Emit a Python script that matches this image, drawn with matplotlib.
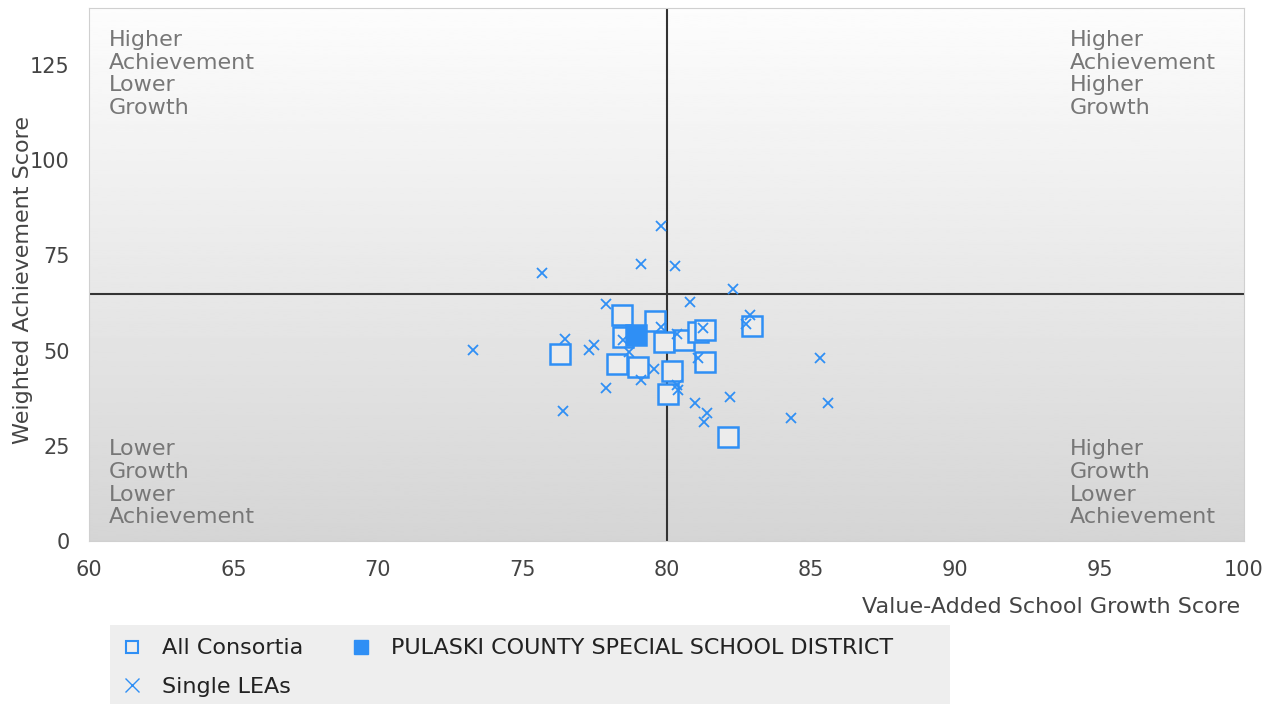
import matplotlib
matplotlib.use("Agg")
import matplotlib.pyplot as plt
import numpy as np
from matplotlib.lines import Line2D
from matplotlib.patches import Rectangle

# Single LEAs (growth score, achievement score)
lea_growth = [79.8, 79.1, 75.7, 80.3, 82.3, 77.9, 80.8, 82.9, 82.75, 79.8,
              81.25, 80.35, 76.5, 77.5, 77.3, 73.3, 85.3, 81.1, 78.7, 78.5,
              79.55, 79.1, 77.9, 80.4, 76.4, 81.0, 82.2, 81.4, 81.3, 84.3,
              85.6, 80.35]
lea_achieve = [82.8, 72.7, 70.5, 72.2, 66.2, 62.2, 62.7, 59.3, 57.0, 56.1,
               56.0, 54.3, 53.0, 51.5, 50.2, 50.3, 48.1, 48.1, 49.7, 52.8,
               45.2, 42.3, 40.2, 39.7, 34.1, 36.2, 37.9, 33.5, 31.2, 32.3,
               36.3, 41.0]

# All Consortia
cons_growth = [78.45, 79.6, 78.5, 79.9, 80.6, 81.1, 81.35, 82.95, 76.3,
               78.27, 79.02, 81.32, 80.2, 80.06, 82.14]
cons_achieve = [59.3, 57.9, 53.7, 52.4, 52.8, 55.0, 55.4, 56.5, 49.2,
                46.4, 45.8, 46.9, 44.7, 38.5, 27.2]

# Selected district
district_growth = [78.95]
district_achieve = [54.2]

growth_cut = 80
achieve_cut = 65

BLUE = "#2f8ff5"
TXT = "#444444"
QTXT = "#777777"

fig = plt.figure(figsize=(12.72, 7.04), dpi=100)
ax = fig.add_axes([89 / 1272, 1 - 541 / 704, (1244 - 89) / 1272, (541 - 8) / 704])

ax.set_xlim(60, 100)
ax.set_ylim(0, 140)

# gradient background
grad = np.linspace(0.835, 0.99, 256).reshape(-1, 1)
ax.imshow(grad, extent=(60, 100, 0, 140), origin="lower", aspect="auto",
          cmap="gray", vmin=0, vmax=1, zorder=0)

ax.axvline(growth_cut, color="#333333", lw=1.5, zorder=1)
ax.axhline(achieve_cut, color="#333333", lw=1.5, zorder=1)

ax.plot(cons_growth, cons_achieve, ls="none", marker="s", ms=15,
        mfc="#ececec", mec=BLUE, mew=1.8, zorder=2)
ax.plot(lea_growth, lea_achieve, ls="none", marker="x", ms=7,
        mec=BLUE, mew=1.3, zorder=3)
ax.plot(district_growth, district_achieve, ls="none", marker="s", ms=15,
        mfc=BLUE, mec=BLUE, mew=1.8, zorder=4)

qkw = dict(color=QTXT, fontsize=16, linespacing=1.18, zorder=5)
ax.text(60.69, 134.3, "Higher\nAchievement\nLower\nGrowth", ha="left", va="top", **qkw)
ax.text(93.98, 134.3, "Higher\nAchievement\nHigher\nGrowth", ha="left", va="top", **qkw)
ax.text(60.69, 4.6, "Lower\nGrowth\nLower\nAchievement", ha="left", va="baseline", **qkw)
ax.text(93.98, 4.6, "Higher\nGrowth\nLower\nAchievement", ha="left", va="baseline", **qkw)

ax.set_xticks(np.arange(60, 101, 5))
ax.set_yticks(np.arange(0, 126, 25))
ax.tick_params(length=0, labelsize=15, labelcolor=TXT, pad=14)
for s in ax.spines.values():
    s.set_color("#d0d0d0")

ax.set_xlabel("Value-Added School Growth Score", fontsize=16, color=TXT, loc="right")
ax.xaxis.set_label_coords((1240 - 89) / 1155, (541 - 597) / 533)
ax.set_ylabel("Weighted Achievement Score", fontsize=16, color=TXT)
ax.yaxis.set_label_coords((33 - 89) / 1155, (541 - 280) / 533)

# legend background box
fig.patches.append(Rectangle((110 / 1272, 0), 840 / 1272, 79 / 704,
                             transform=fig.transFigure, facecolor="#eeeeee",
                             edgecolor="none", zorder=0))

handles = [
    Line2D([], [], ls="none", marker="s", ms=8, mfc="none", mec=BLUE, mew=1.5),
    Line2D([], [], ls="none", marker="x", ms=10, mec=BLUE, mew=1.0),
    Line2D([], [], ls="none", marker="s", ms=10, mfc=BLUE, mec=BLUE),
]
labels = ["All Consortia", "Single LEAs", "PULASKI COUNTY SPECIAL SCHOOL DISTRICT"]
leg = fig.legend(handles, labels, ncol=2, loc="upper left",
                 bbox_to_anchor=(110 / 1272, 1 - 625 / 704),
                 bbox_transform=fig.transFigure, frameon=False,
                 borderaxespad=0, borderpad=0.6, handletextpad=0.95,
                 columnspacing=2.17, handlelength=0.8, labelspacing=0.85,
                 prop=dict(family="DejaVu Sans", size=16))
for t in leg.get_texts():
    t.set_color("#222222")

fig.savefig("out.png", dpi=100, facecolor="white")
